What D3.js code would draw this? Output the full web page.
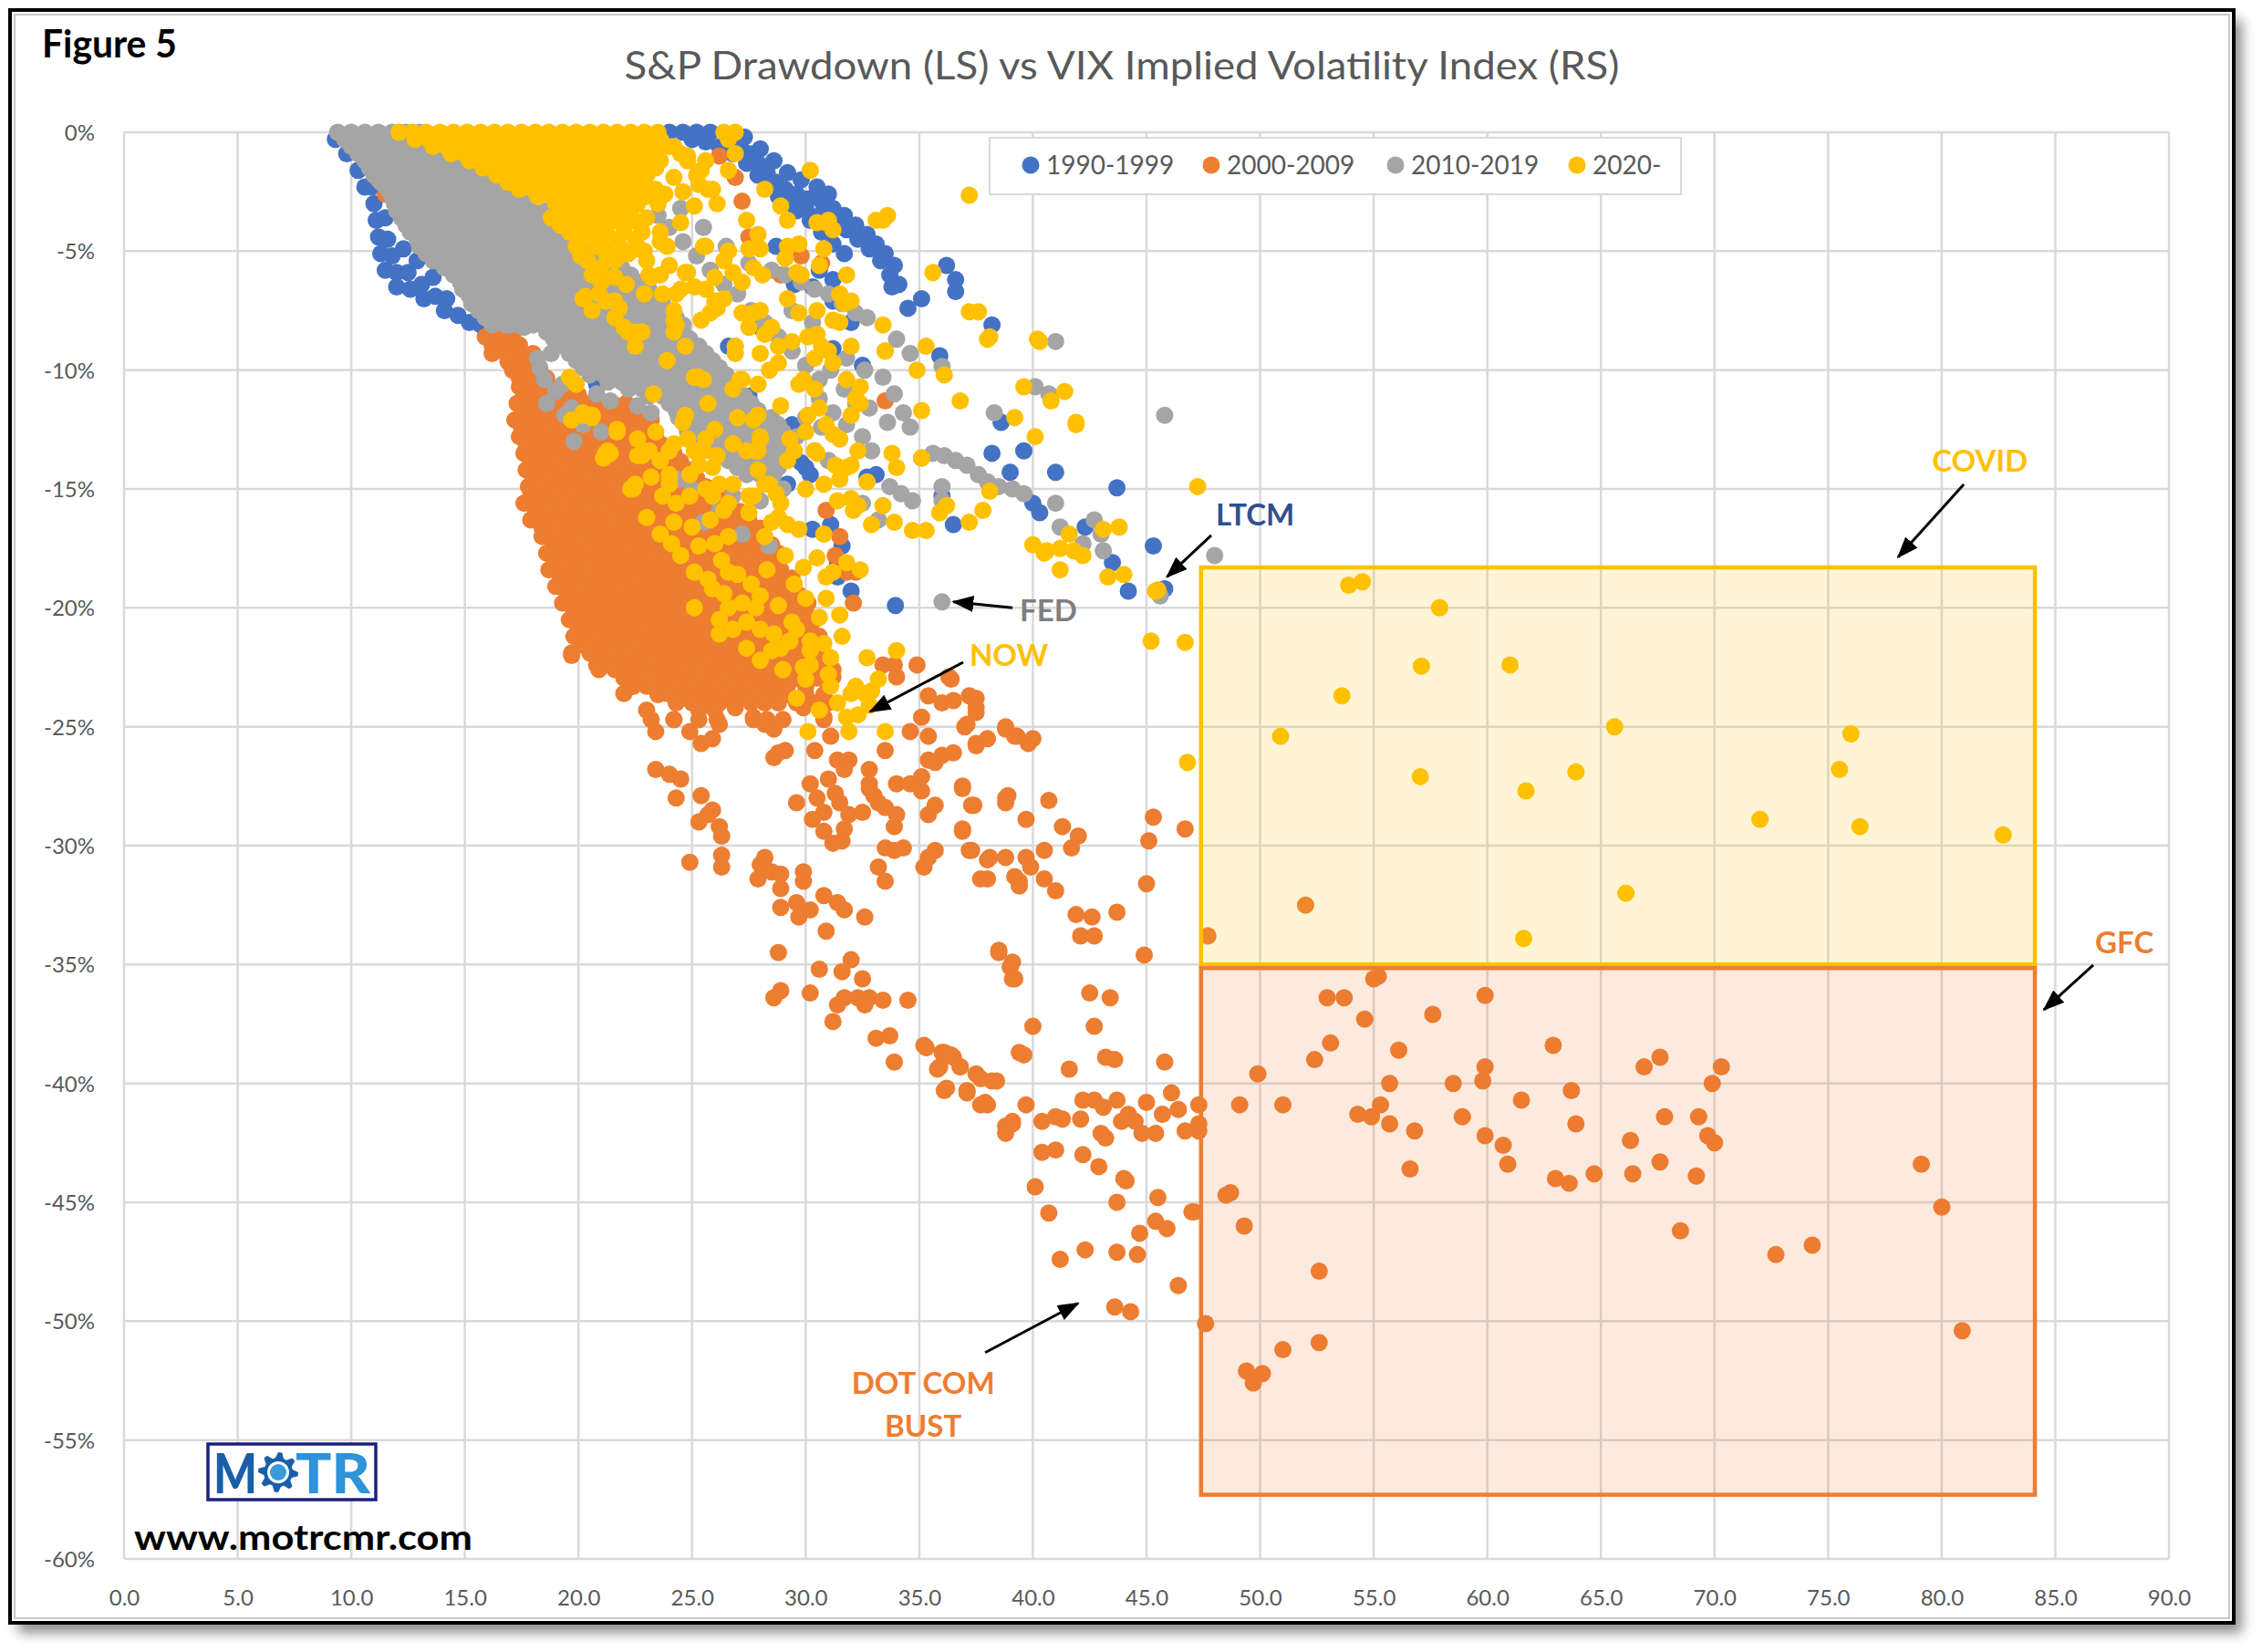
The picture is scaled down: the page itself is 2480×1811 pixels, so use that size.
<!DOCTYPE html>
<html>
<head>
<meta charset="utf-8">
<script src="https://cdn.jsdelivr.net/npm/d3@7"></script>
<style>
  body{margin:0;background:#fff;}
  svg{display:block;}
</style>
</head>
<body>
<svg id="chart" width="2480" height="1811"></svg>
<script>
const FONT = "Lato, 'Open Sans', 'DejaVu Sans', sans-serif";

// ---- axis ticks
const xTickValues = [0,5,10,15,20,25,30,35,40,45,50,55,60,65,70,75,80,85,90];
const yTickValues = [0,-5,-10,-15,-20,-25,-30,-35,-40,-45,-50,-55,-60];

const seriesNames = ["1990-1999","2000-2009","2010-2019","2020-"];
const seriesColors = ["#4472C4","#ED7D31","#A5A5A5","#FFC000"];

// ---- points: [VIX, drawdown %]
const blue1990s = [
  [9.3,-0.3],[9.8,-0.9],[10.3,-1.6],[10.6,-2.3],[10.9,-2.3],[11.0,-3.0],[11.1,-3.7],[11.5,-3.6],[11.2,-4.4],[11.6,-4.5],
  [11.3,-5.1],[11.8,-5.2],[11.5,-5.8],[12.0,-5.9],[12.5,-5.9],[12.0,-6.5],[12.6,-6.6],[13.1,-6.4],[13.6,-6.1],[13.2,-7.0],
  [13.7,-6.9],[14.2,-7.0],[14.1,-7.5],[14.7,-7.7],[15.2,-8.0],[15.7,-8.1],[16.3,-8.0],[16.9,-8.0],[12.3,-4.9],[12.9,-5.4],
  [24.0,0],[24.6,0],[25.2,0],[25.8,0],[27.1,-0.5],[27.5,-0.9],[27.9,-1.3],[28.3,-1.7],[28.7,-2.1],[29.1,-2.4],
  [29.6,-2.6],[30.1,-2.8],[30.7,-2.9],[31.2,-3.2],[31.7,-3.5],[32.2,-3.9],[32.7,-4.3],[33.1,-4.7],[33.5,-5.1],[33.9,-5.6],
  [25.0,-0.3],[25.6,-0.4],[26.2,-0.6],[26.8,-0.9],[27.4,-1.3],[27.9,-1.8],[28.3,-2.3],[28.8,-2.7],[29.4,-3.0],[30.0,-3.2],
  [30.6,-3.5],[31.2,-3.8],[31.8,-4.1],[32.3,-4.5],[32.8,-4.9],[33.3,-5.4],[33.7,-6.0],[34.1,-6.4],[26.5,-0.1],[27.3,-0.2],
  [28.0,-0.7],[28.6,-1.2],[29.2,-1.7],[29.8,-2.0],[30.5,-2.3],[31.0,-2.6],
  [29.0,-3.0],[29.6,-3.3],[30.2,-3.7],[30.7,-4.2],[31.2,-4.7],[31.7,-5.1],[31.2,-6.2],[30.6,-5.8],[33.8,-6.5],[34.5,-7.4],
  [35.1,-7.0],[36.2,-5.6],[36.6,-6.2],[36.6,-6.7],[38.2,-8.1],[29.5,-6.4],[28.7,-4.8],[26.6,-9.0],[28.0,-8.2],[30.3,-6.5],
  [31.2,-7.1],[32.0,-8.0],[35.9,-9.4],[31.2,-9.1],[38.6,-12.2],[39.6,-13.4],[38.2,-13.5],[39.0,-14.3],[41.0,-14.3],[43.7,-14.95],
  [40.0,-15.6],[40.3,-16.0],[42.3,-16.6],[43.5,-18.1],[44.2,-19.3],[45.8,-19.2],[45.3,-17.4],[33.95,-19.9],[36.5,-16.5],[36.0,-15.3],
  [32.7,-14.5],[33.1,-14.4],[29.4,-12.3],[30.0,-14.1],[30.3,-16.7],[31.4,-18.7],[28.6,-18.4],[27.4,-16.3],[31.1,-16.5],[31.6,-17.4],
  [32.0,-19.3],[31.4,-18.1],[28.9,-12.7],[29.2,-14.8],[21.1,-14.1],[24.0,-13.5],[20.8,-10.6],
  [21.0,-10.5],[27.5,-11.1],[29.0,-12.8],[29.8,-13.9],[30.2,-14.4],[32.5,-9.8]
];

// dense core of the 2000s cloud, row by row: [drawdown, VIX values]
const orangeRows = [
  [-8.6,[15.9,16.5,17.1]],
  [-8.95,[16.2,16.8,17.4]],
  [-9.3,[16.2,16.8,17.4,18.0]],
  [-9.65,[16.9,17.5,18.1]],
  [-10.0,[17.1,17.7,18.3]],
  [-10.35,[17.4,18.0,18.6]],
  [-10.7,[17.4,18.0,18.6,19.2]],
  [-11.05,[17.6,18.2,18.8,19.4,20.0]],
  [-11.4,[17.3,17.9,18.5,19.1,19.7,20.3,20.9,21.5,22.1]],
  [-11.75,[17.6,18.2,18.8,19.4,20.0,20.6,21.2,21.8,22.4]],
  [-12.1,[17.2,17.8,18.4,19.0,19.6,20.2,20.8,21.4,22.0,22.6,23.2]],
  [-12.45,[17.5,18.1,18.7,19.3,19.9,20.5,21.1,21.7,22.3,22.9]],
  [-12.8,[17.4,18.0,18.6,19.2,19.8,20.4,21.0,21.6,22.2,22.8,23.4]],
  [-13.15,[17.7,18.3,18.9,19.5,20.1,20.7,21.3,21.9,22.5,23.1,23.7]],
  [-13.5,[17.6,18.2,18.8,19.4,20.0,20.6,21.2,21.8,22.4,23.0,23.6,24.2]],
  [-13.85,[17.9,18.5,19.1,19.7,20.3,20.9,21.5,22.1,22.7,23.3,23.9,24.5]],
  [-14.2,[17.7,18.3,18.9,19.5,20.1,20.7,21.3,21.9,22.5,23.1,23.7,24.3,24.9]],
  [-14.55,[18.0,18.6,19.2,19.8,20.4,21.0,21.6,22.2,22.8,23.4,24.0,24.6,25.2]],
  [-14.9,[17.8,18.4,19.0,19.6,20.2,20.8,21.4,22.0,22.6,23.2,23.8,24.4,25.0,25.6]],
  [-15.25,[17.9,18.5,19.1,19.7,20.3,20.9,21.5,22.1,22.7,23.3,23.9,24.5,25.1,25.7,26.3]],
  [-15.6,[17.6,18.2,18.8,19.4,20.0,20.6,21.2,21.8,22.4,23.0,23.6,24.2,24.8,25.4,26.0,26.6]],
  [-15.95,[18.1,18.7,19.3,19.9,20.5,21.1,21.7,22.3,22.9,23.5,24.1,24.7,25.3,25.9,26.5,27.1]],
  [-16.3,[17.9,18.5,19.1,19.7,20.3,20.9,21.5,22.1,22.7,23.3,23.9,24.5,25.1,25.7,26.3,26.9,27.5]],
  [-16.65,[18.4,19.0,19.6,20.2,20.8,21.4,22.0,22.6,23.2,23.8,24.4,25.0,25.6,26.2,26.8,27.4,28.0]],
  [-17.0,[18.4,19.0,19.6,20.2,20.8,21.4,22.0,22.6,23.2,23.8,24.4,25.0,25.6,26.2,26.8,27.4,28.0]],
  [-17.35,[18.9,19.5,20.1,20.7,21.3,21.9,22.5,23.1,23.7,24.3,24.9,25.5,26.1,26.7,27.3,27.9,28.5]],
  [-17.7,[18.6,19.2,19.8,20.4,21.0,21.6,22.2,22.8,23.4,24.0,24.6,25.2,25.8,26.4,27.0,27.6,28.2,28.8]],
  [-18.05,[19.0,19.6,20.2,20.8,21.4,22.0,22.6,23.2,23.8,24.4,25.0,25.6,26.2,26.8,27.4,28.0,28.6]],
  [-18.4,[18.7,19.3,19.9,20.5,21.1,21.7,22.3,22.9,23.5,24.1,24.7,25.3,25.9,26.5,27.1,27.7,28.3,28.9]],
  [-18.75,[19.2,19.8,20.4,21.0,21.6,22.2,22.8,23.4,24.0,24.6,25.2,25.8,26.4,27.0,27.6,28.2,28.8,29.4]],
  [-19.1,[19.0,19.6,20.2,20.8,21.4,22.0,22.6,23.2,23.8,24.4,25.0,25.6,26.2,26.8,27.4,28.0,28.6,29.2]],
  [-19.45,[19.5,20.1,20.7,21.3,21.9,22.5,23.1,23.7,24.3,24.9,25.5,26.1,26.7,27.3,27.9,28.5,29.1,29.7]],
  [-19.8,[19.3,19.9,20.5,21.1,21.7,22.3,22.9,23.5,24.1,24.7,25.3,25.9,26.5,27.1,27.7,28.3,28.9,29.5,30.1]],
  [-20.15,[19.8,20.4,21.0,21.6,22.2,22.8,23.4,24.0,24.6,25.2,25.8,26.4,27.0,27.6,28.2,28.8,29.4,30.0]],
  [-20.5,[19.6,20.2,20.8,21.4,22.0,22.6,23.2,23.8,24.4,25.0,25.6,26.2,26.8,27.4,28.0,28.6,29.2,29.8,30.4]],
  [-20.85,[20.0,20.6,21.2,21.8,22.4,23.0,23.6,24.2,24.8,25.4,26.0,26.6,27.2,27.8,28.4,29.0,29.6,30.2]],
  [-21.2,[19.8,20.4,21.0,21.6,22.2,22.8,23.4,24.0,24.6,25.2,25.8,26.4,27.0,27.6,28.2,28.8,29.4,30.0,30.6]],
  [-21.55,[20.1,20.7,21.3,21.9,22.5,23.1,23.7,24.3,24.9,25.5,26.1,26.7,27.3,27.9,28.5,29.1,29.7,30.3]],
  [-21.9,[19.7,20.5,21.2,21.8,22.4,23.0,23.6,24.2,24.8,25.4,26.0,26.6,27.2,27.8,28.4,29.0,29.6,30.2,30.8]],
  [-22.25,[20.9,21.5,22.1,22.7,23.3,23.9,24.5,25.1,25.7,26.3,26.9,27.5,28.1,28.7,29.3,29.9,30.6]],
  [-22.6,[20.9,21.6,22.3,23.0,23.6,24.2,24.8,25.4,26.0,26.6,27.2,27.8,28.4,29.0,29.6,30.4,31.2]],
  [-22.95,[22.0,22.7,23.4,24.1,24.7,25.3,25.9,26.5,27.1,27.7,28.3,28.9,29.6,30.5]],
  [-23.3,[22.4,23.0,23.8,24.4,25.0,25.6,26.2,26.8,27.4,28.0,28.6,29.2,30.0,31.0]],
  [-23.65,[23.5,24.6,25.3,25.9,26.5,27.2,27.9,28.5,29.2,30.0,30.8]],
  [-24.0,[24.3,25.0,25.6,26.2,26.9,27.6,28.2,28.8,29.6,30.4,31.0]],
  [-24.7,[23.2,24.2,25.3,26.1,27.7,28.3,29.0,30.8]]
];

const orange2000s = [
  [11.2,-2.0],[11.5,-2.6],[26.2,-1.0],[26.9,-1.9],[27.2,-2.9],[27.5,-4.4],[29.8,-5.2],[28.9,-6.0],[30.7,-5.5],[33.5,-11.3],[16.0,-8.6],
  [30.9,-15.9],[31.5,-17.0],[31.8,-18.5],[31.3,-17.8],[32.2,-18.5],[32.1,-19.8],
  [19.7,-22.0],[20.5,-21.7],[20.8,-22.4],[21.6,-21.8],[22.2,-22.0],[22.0,-23.6],[22.4,-23.3],[22.8,-22.9],[23.2,-22.3],[23.0,-24.3],
  [23.4,-25.2],[23.9,-23.6],[24.3,-23.9],[24.2,-24.7],[24.9,-25.2],[25.4,-25.7],[25.9,-25.5],[26.2,-24.9],[25.3,-24.3],[26.0,-24.3],
  [26.9,-24.2],[27.7,-24.6],[28.2,-24.9],[28.6,-25.1],[28.6,-26.3],[29.1,-26.0],[29.9,-24.2],[30.8,-24.6],[30.4,-26.0],[31.1,-25.4],
  [31.4,-26.4],[31.7,-26.8],[31.9,-26.4],[31.2,-22.9],[32.8,-26.8],[33.4,-22.4],[33.9,-22.4],[34.0,-22.9],[33.5,-26.0],[34.6,-25.2],
  [34.9,-22.4],[35.1,-24.6],[35.4,-25.4],[35.4,-26.4],[35.1,-27.1],[34.0,-27.4],[34.6,-27.4],[35.1,-27.7],[36.3,-22.9],[35.4,-23.7],
  [36.0,-24.0],[36.5,-23.9],[37.2,-23.7],[37.5,-24.2],[37.1,-24.9],[36.0,-26.2],[36.5,-26.1],[35.7,-26.5],[37.5,-25.7],[38.0,-25.5],
  [38.8,-25.1],[39.2,-25.4],[36.9,-27.6],[37.4,-28.3],[38.8,-28.2],[38.9,-27.9],[35.7,-28.3],[35.4,-28.7],[36.9,-29.3],[37.2,-30.2],
  [38.0,-30.6],[38.8,-30.5],[37.7,-31.4],[39.4,-31.5],[35.4,-30.5],[35.7,-30.2],[35.2,-30.9],[33.2,-30.9],[33.5,-31.5],[33.5,-30.1],
  [33.9,-30.2],[34.3,-30.1],[32.8,-27.4],[33.0,-27.9],[33.2,-28.2],[33.5,-28.4],[34.0,-28.7],[33.9,-29.2],[32.5,-28.6],[31.9,-28.7],
  [31.7,-29.3],[31.6,-29.8],[30.2,-27.4],[30.5,-28.0],[30.8,-28.6],[31.0,-27.2],[31.3,-27.8],[30.3,-28.9],[30.8,-29.4],[31.2,-29.9],
  [31.5,-28.2],[29.6,-28.2],[32.8,-27.6],[28.8,-26.1],[23.4,-26.8],[24.0,-27.0],[24.5,-27.2],[24.3,-28.0],[25.4,-27.9],[25.9,-28.5],
  [26.2,-29.2],[26.3,-29.6],[25.3,-29.0],[25.7,-28.7],[24.9,-30.7],[26.3,-30.4],[26.3,-30.9],[28.2,-30.5],[28.0,-30.8],[27.9,-31.4],
  [28.5,-31.1],[28.9,-31.2],[28.9,-31.8],[29.9,-31.1],[29.9,-31.5],[28.9,-32.6],[29.6,-32.4],[30.2,-32.7],[29.7,-33.0],[30.8,-32.1],
  [31.4,-32.4],[31.7,-32.7],[30.9,-33.6],[32.6,-33.0],[28.8,-34.5],[28.9,-36.1],[28.6,-36.4],[30.2,-36.2],[30.6,-35.2],[31.6,-35.3],
  [32.0,-34.8],[32.5,-35.6],[31.4,-36.7],[31.7,-36.4],[32.3,-36.4],[32.8,-36.4],[33.4,-36.5],[31.2,-37.4],[32.6,-36.7],[34.5,-36.5],
  [33.1,-38.1],[33.7,-38.0],[33.9,-39.1],[35.2,-38.4],[36.0,-38.7],[36.5,-38.9],[36.8,-39.3],[35.9,-39.3],[36.2,-40.2],[37.1,-40.3],
  [37.5,-39.6],[38.2,-39.9],[37.7,-40.9],[38.0,-40.9],[38.8,-41.8],[39.1,-41.7],[38.5,-34.5],[39.0,-35.1],[39.2,-35.6],[39.4,-38.7],
  [36.4,-23.0],[37.5,-23.8],[37.5,-24.4],[37.0,-25.0],[37.5,-25.8],[38.8,-25.0],[39.3,-25.4],[39.8,-25.7],[40.0,-25.5],[36.9,-27.5],
  [37.3,-28.3],[38.8,-28.0],[39.7,-28.9],[40.7,-28.1],[41.3,-29.2],[42.0,-29.6],[41.7,-30.1],[36.9,-29.4],[37.3,-30.2],[38.1,-30.5],
  [39.7,-30.5],[39.9,-30.9],[40.5,-30.2],[38.0,-31.4],[39.2,-31.3],[39.4,-31.7],[40.5,-31.4],[41.0,-31.9],[45.3,-28.8],[45.1,-29.8],
  [46.7,-29.3],[45.0,-31.6],[41.9,-32.9],[42.6,-33.0],[42.1,-33.8],[42.7,-33.8],[43.7,-32.8],[44.9,-34.6],[38.5,-34.4],[39.1,-34.9],
  [39.1,-35.6],[42.5,-36.2],[43.4,-36.4],[42.7,-37.6],[40.0,-37.6],[39.6,-38.8],[35.3,-38.5],[36.1,-38.7],[36.4,-38.8],[36.8,-39.3],
  [35.8,-39.4],[36.1,-40.3],[37.1,-40.4],[37.7,-39.8],[38.4,-39.9],[37.9,-40.8],[39.7,-40.9],[39.1,-41.6],[38.8,-42.1],[40.4,-41.6],
  [41.0,-41.4],[41.3,-41.5],[42.1,-41.5],[40.4,-42.9],[41.0,-42.8],[41.6,-39.4],[43.2,-38.9],[43.6,-39.0],[45.8,-39.1],[42.2,-40.7],
  [42.7,-40.7],[43.1,-41.0],[43.7,-40.7],[44.2,-41.3],[44.5,-41.6],[43.9,-41.6],[44.8,-42.1],[45.4,-42.1],[45.0,-40.8],[43.0,-42.1],
  [43.2,-42.3],[42.2,-43.0],[42.9,-43.5],[44.0,-44.0],[46.1,-40.4],[46.4,-41.1],[45.7,-41.3],[46.7,-42.0],[47.3,-40.9],[47.3,-41.7],
  [47.3,-42.0],[47.7,-33.8],[52.0,-32.5],
  [40.1,-44.35],[40.7,-45.45],[41.2,-47.4],[42.3,-47.0],[43.7,-47.1],[44.6,-47.2],[44.7,-46.3],[43.7,-45.0],[44.1,-44.1],[45.5,-44.8],
  [45.4,-45.8],[45.9,-46.1],[47.0,-45.4],[46.4,-48.5],[43.6,-49.4],[44.3,-49.6],[47.6,-50.1],[48.5,-44.7],[48.7,-44.6],[49.3,-46.0],
  [52.6,-47.9],[52.6,-50.9],[51.0,-51.2],[49.4,-52.1],[50.1,-52.2],[49.7,-52.6],
  [55.0,-35.6],[55.2,-35.5],[52.95,-36.4],[53.7,-36.4],[59.9,-36.3],[54.6,-37.3],[57.6,-37.1],[53.1,-38.3],[52.4,-39.0],[56.1,-38.6],
  [62.9,-38.4],[66.9,-39.3],[67.6,-38.9],[70.3,-39.3],[69.9,-40.0],[49.9,-39.6],[55.7,-40.0],[58.5,-40.0],[59.9,-39.3],[59.8,-39.9],
  [63.7,-40.3],[61.5,-40.7],[49.1,-40.9],[51.0,-40.9],[54.3,-41.3],[54.9,-41.4],[55.3,-40.9],[55.7,-41.7],[56.8,-42.0],[58.9,-41.4],
  [59.9,-42.2],[60.7,-42.6],[60.9,-43.4],[63.9,-41.7],[66.3,-42.4],[67.8,-41.4],[69.3,-41.4],[69.7,-42.2],[70.0,-42.5],[56.6,-43.6],
  [63.0,-44.0],[63.6,-44.2],[64.7,-43.8],[66.4,-43.8],[67.6,-43.3],[69.2,-43.9],[47.1,-45.4],[68.5,-46.2],[72.7,-47.2],[74.3,-46.8],
  [79.1,-43.4],[80.0,-45.2],[80.9,-50.4]
];

// dense core of the 2010s cloud
const grayRows = [
  [0.0,[9.4,10.0,10.6,11.2,11.8,12.4,13.0]],
  [-0.3,[9.7,10.3,10.9,11.5,12.1,12.7,13.3,13.9]],
  [-0.6,[10.0,10.6,11.2,11.8,12.4,13.0,13.6,14.2]],
  [-0.9,[10.3,10.9,11.5,12.1,12.7,13.3,13.9,14.5,15.1]],
  [-1.2,[10.6,11.2,11.8,12.4,13.0,13.6,14.2,14.8,15.4]],
  [-1.5,[10.8,11.4,12.0,12.6,13.2,13.8,14.4,15.0,15.6,16.2]],
  [-1.8,[11.0,11.6,12.2,12.8,13.4,14.0,14.6,15.2,15.8,16.4]],
  [-2.1,[11.3,11.9,12.5,13.1,13.7,14.3,14.9,15.5,16.1,16.7]],
  [-2.4,[11.6,12.2,12.8,13.4,14.0,14.6,15.2,15.8,16.4,17.0]],
  [-2.7,[11.8,12.4,13.0,13.6,14.2,14.8,15.4,16.0,16.6,17.2,17.8]],
  [-3.0,[11.9,12.5,13.1,13.7,14.3,14.9,15.5,16.1,16.7,17.3,17.9]],
  [-3.3,[12.0,12.6,13.2,13.8,14.4,15.0,15.6,16.2,16.8,17.4,18.0,18.6]],
  [-3.6,[12.2,12.8,13.4,14.0,14.6,15.2,15.8,16.4,17.0,17.6,18.2,18.8]],
  [-3.9,[12.4,13.0,13.6,14.2,14.8,15.4,16.0,16.6,17.2,17.8,18.4,19.0]],
  [-4.2,[12.6,13.2,13.8,14.4,15.0,15.6,16.2,16.8,17.4,18.0,18.6,19.2]],
  [-4.5,[12.9,13.5,14.1,14.7,15.3,15.9,16.5,17.1,17.7,18.3,18.9,19.5,20.1]],
  [-4.8,[13.0,13.6,14.2,14.8,15.4,16.0,16.6,17.2,17.8,18.4,19.0,19.6,20.2]],
  [-5.1,[13.3,13.9,14.5,15.1,15.7,16.3,16.9,17.5,18.1,18.7,19.3,19.9,20.5,21.1]],
  [-5.4,[13.6,14.2,14.8,15.4,16.0,16.6,17.2,17.8,18.4,19.0,19.6,20.2,20.8,21.4]],
  [-5.7,[14.1,14.7,15.3,15.9,16.5,17.1,17.7,18.3,18.9,19.5,20.1,20.7,21.3,21.9]],
  [-6.0,[14.5,15.1,15.7,16.3,16.9,17.5,18.1,18.7,19.3,19.9,20.5,21.1,21.7,22.3]],
  [-6.3,[14.8,15.4,16.0,16.6,17.2,17.8,18.4,19.0,19.6,20.2,20.8,21.4,22.0,22.6]],
  [-6.6,[14.9,15.5,16.1,16.7,17.3,17.9,18.5,19.1,19.7,20.3,20.9,21.5,22.1,22.7,23.1]],
  [-6.9,[15.2,15.8,16.4,17.0,17.6,18.2,18.8,19.4,20.0,20.6,21.2,21.8,22.4,23.0,23.5]],
  [-7.2,[15.3,15.9,16.5,17.1,17.7,18.3,18.9,19.5,20.1,20.7,21.3,21.9,22.5,23.1,23.7]],
  [-7.5,[15.6,16.2,16.8,17.4,18.0,18.6,19.2,19.8,20.4,21.0,21.6,22.2,22.8,23.4,24.0]],
  [-7.8,[15.9,16.5,17.1,17.7,18.3,18.9,19.5,20.1,20.7,21.3,21.9,22.5,23.1,23.7,24.3]],
  [-8.1,[16.2,16.8,17.4,18.0,18.6,19.2,19.8,20.4,21.0,21.6,22.2,22.8,23.4,24.0,24.6]],
  [-8.4,[18.6,19.2,19.8,20.4,21.0,21.6,22.2,22.8,23.4,24.0,24.6]],
  [-8.7,[18.9,19.5,20.1,20.7,21.3,21.9,22.5,23.1,23.7,24.3,24.9]],
  [-9.0,[19.3,19.9,20.5,21.1,21.7,22.3,22.9,23.5,24.1,24.7,25.3]],
  [-9.3,[19.6,20.2,20.8,21.4,22.0,22.6,23.2,23.8,24.4,25.0,25.6]],
  [-9.6,[19.9,20.5,21.1,21.7,22.3,22.9,23.5,24.1,24.7,25.3,25.9]],
  [-9.9,[20.2,20.8,21.4,22.0,22.6,23.2,23.8,24.4,25.0,25.6,26.2]],
  [-10.2,[20.5,21.1,21.7,22.3,22.9,23.5,24.1,24.7,25.3,25.9,26.5]],
  [-10.5,[21.3,21.9,22.5,23.1,23.7,24.3,24.9,25.5,26.1,26.7]],
  [-10.8,[22.2,22.8,23.4,24.0,24.6,25.2,25.8,26.4,27.0]],
  [-11.1,[23.1,23.7,24.3,24.9,25.5,26.1,26.7,27.3]],
  [-11.4,[24.0,24.6,25.2,25.8,26.4,27.0,27.6]],
  [-11.7,[24.3,24.9,25.5,26.1,26.7,27.3,27.9]],
  [-12.0,[24.4,25.0,25.6,26.2,26.8,27.4,28.0,28.5]],
  [-12.3,[24.7,25.3,25.9,26.5,27.1,27.7,28.3,28.8]],
  [-12.6,[24.8,25.4,26.0,26.6,27.2,27.8,28.4,29.0]],
  [-12.9,[25.2,25.8,26.4,27.0,27.6,28.2,28.8]],
  [-13.2,[25.5,26.1,26.7,27.3,27.9,28.5,29.1]],
  [-13.5,[26.0,26.6,27.2,27.8,28.4,29.0]],
  [-13.8,[26.6,27.2,27.8,28.4,29.0]],
  [-14.1,[27.0,27.6,28.2,28.8]],
  [-14.4,[27.4,28.0,28.6]]
];

const gray2010s = [
  [17.0,-8.1],[17.6,-8.2],[18.2,-9.5],[18.8,-9.3],[19.3,-10.6],[19.7,-11.6],[18.5,-10.4],[20.8,-11.0],[21.4,-11.3],[22.6,-11.5],[23.2,-11.8],
  [18.3,-9.9],[19.0,-10.9],[19.4,-11.9],[18.6,-11.4],[20.2,-12.3],[21.0,-12.6],[19.8,-13.0],
  [25.0,-15.0],[26.2,-15.9],[27.2,-16.9],[28.4,-17.4],[24.4,-14.6],[26.8,-15.3],
  [29.4,-7.5],[30.3,-8.0],[31.8,-9.5],[32.6,-10.0],[30.7,-12.4],[32.8,-11.6],
  [24.0,-4.0],[24.6,-4.6],[25.2,-5.2],[25.8,-5.8],[26.4,-6.4],[24.5,-3.2],[25.5,-4.0],[26.5,-4.8],[27.5,-5.5],[23.5,-3.5],
  [22.5,-3.0],[21.5,-2.5],[20.5,-2.0],[19.5,-1.5],[18.5,-1.0],
  [28.5,-5.8],[29.1,-6.0],[29.8,-6.3],[30.4,-6.6],[31.0,-6.8],[31.6,-7.2],[32.2,-7.6],[32.7,-7.8],[27.0,-6.8],[27.6,-7.5],
  [28.2,-8.0],[28.8,-8.6],[29.4,-9.2],[30.0,-9.8],[30.6,-10.4],[31.1,-10.0],[31.7,-10.8],[32.2,-11.4],[31.2,-11.8],[31.8,-12.3],
  [30.6,-11.2],[30.0,-12.0],[29.6,-12.8],[30.4,-13.4],[31.0,-13.8],[32.5,-12.8],[33.4,-10.3],[33.9,-11.0],[34.3,-11.8],[34.6,-12.4],
  [33.6,-12.2],[32.9,-13.4],[33.7,-14.9],[34.2,-15.2],[34.7,-15.5],[35.1,-13.7],[35.6,-13.5],[36.1,-13.6],[36.6,-13.8],[37.1,-14.0],
  [37.6,-14.4],[36.0,-14.9],[36.0,-15.5],[38.0,-14.7],[38.5,-14.9],[39.1,-15.0],[39.6,-15.2],[41.0,-15.6],[41.2,-16.6],[42.7,-16.3],
  [43.0,-16.9],[43.1,-17.6],[42.2,-17.3],[45.8,-11.9],[45.6,-19.5],[48.0,-17.8],[36.0,-19.75],[41.0,-8.8],[40.1,-10.7],[40.7,-11.0],
  [38.3,-11.8],[36.0,-9.85],[34.6,-9.3],[34.0,-8.7],[33.5,-9.2],[25.5,-16.4],[28.0,-15.5],[29.0,-15.0],[33.2,-16.3],[32.5,-15.6]
];

// dense core of the 2020s cloud
const yellowRows = [
  [0.0,[12.1,12.7,13.3,13.9,14.5,15.1,15.7,16.3,16.9,17.5,18.1,18.7,19.3,19.9,20.5,21.1,21.7,22.3,22.9,23.5,26.4,26.9]],
  [-0.3,[12.8,13.4,14.0,14.6,15.2,15.8,16.4,17.0,17.6,18.2,18.8,19.4,20.0,20.6,21.2,21.8,22.4,23.0,23.6,26.6]],
  [-0.6,[13.6,14.2,14.8,15.4,16.0,16.6,17.2,17.8,18.4,19.0,19.6,20.2,20.8,21.4,22.0,22.6,23.2,24.2]],
  [-0.9,[14.4,15.0,15.6,16.2,16.8,17.4,18.0,18.6,19.2,19.8,20.4,21.0,21.6,22.2,22.8,23.4,24.5]],
  [-1.2,[15.2,15.8,16.4,17.0,17.6,18.2,18.8,19.4,20.0,20.6,21.2,21.8,22.4,23.0,23.6,24.8,25.6]],
  [-1.5,[15.8,16.4,17.0,17.6,18.2,18.8,19.4,20.0,20.6,21.2,21.8,22.4,23.0,23.4]],
  [-1.8,[16.4,17.0,17.6,18.2,18.8,19.4,20.0,20.6,21.2,21.8,22.4,23.0,25.2]],
  [-2.1,[16.9,17.5,18.1,18.7,19.3,19.9,20.5,21.1,21.7,22.3,22.9]],
  [-2.4,[17.4,18.0,18.6,19.2,19.8,20.4,21.0,21.6,22.2,22.8,23.4,25.7]],
  [-2.7,[18.2,18.8,19.4,20.0,20.6,21.2,21.8,22.4,23.0]],
  [-3.0,[19.0,19.6,20.2,20.8,21.4,22.0,22.6,26.1]],
  [-3.3,[19.3,19.9,20.5,21.1,21.7,22.3]],
  [-3.6,[18.8,19.5,20.2,20.9,21.6,22.3,23.0]],
  [-3.9,[19.2,19.9,20.6,21.3,22.0,22.7]],
  [-4.2,[19.6,20.4,21.2,22.0,22.8,23.6]],
  [-4.5,[20.1,20.9,21.7,22.5]],
  [-4.8,[19.9,20.8,21.8,22.6]],
  [-5.1,[20.1,21.2,22.2]],
  [-5.4,[20.4,21.6,23.0]]
];

const yellow2020s = [
  [24.0,-0.6],[24.8,-1.0],[25.4,-1.6],[24.2,-1.9],[23.8,-2.6],[24.6,-2.5],[25.3,-2.2],[23.5,-3.0],
  [30.2,-1.6],[30.9,-3.8],[29.2,-3.7],[27.4,-3.7],[27.9,-4.3],[26.6,-5.0],[26.8,-5.9],[26.0,-7.1],[25.4,-7.9],[27.2,-7.6],
  [28.2,-8.5],[28.8,-9.7],[27.9,-10.6],[29.7,-10.6],[30.6,-11.6],[30.0,-12.6],[31.5,-12.9],[32.2,-11.2],[25.1,-10.3],[24.2,-7.9],
  [22.5,-8.4],[22.8,-8.4],[21.7,-12.6],[21.2,-13.5],[23.6,-13.8],[25.1,-13.4],[25.9,-14.1],[27.4,-13.4],[28.2,-14.8],[28.9,-15.6],
  [23.0,-16.2],[23.6,-16.9],[24.5,-17.8],[25.1,-18.5],[25.9,-19.2],[26.6,-20.0],[27.4,-20.6],[25.1,-20.0],[29.7,-16.7],[30.5,-17.9],
  [31.2,-18.5],[31.8,-18.1],[29.1,-17.8],[29.4,-20.6],[30.2,-21.4],[28.2,-17.0],[26.6,-17.0],[24.3,-15.6],[22.3,-15.0],[21.1,-13.7],
  [19.9,-10.6],[19.6,-10.3],[20.2,-11.9],[20.6,-12.0],[22.0,-8.2],[21.6,-7.8],[20.9,-6.8],[20.3,-6.9],[21.2,-7.1],[22.9,-6.8],
  [23.6,-6.0],[24.3,-6.8],[25.1,-6.5],[23.6,-4.6],[24.5,-3.8],[25.1,-3.1],[25.9,-2.4],[26.6,-1.6],[26.9,-0.9],[28.2,-2.4],
  [28.9,-3.1],[29.7,-4.7],[30.5,-3.8],[31.2,-4.1],[30.6,-5.6],[31.5,-6.8],[29.7,-7.6],[30.5,-8.5],[31.2,-9.7],[29.4,-8.8],
  [28.9,-11.5],[30.5,-13.5],[31.8,-14.1],[27.7,-15.3],[26.6,-15.6],
  [26.0,-12.5],[26.8,-14.8],[27.5,-16.0],[28.5,-16.4],[29.5,-19.0],[28.0,-19.5],[27.0,-18.6],[26.3,-18.0],[30.0,-15.0],[29.2,-13.8],
  [27.0,-12.0],[28.0,-12.8],[24.6,-12.2],[23.3,-11.0],[23.9,-9.6],[25.7,-11.4],[26.9,-9.3],[30.8,-16.9],[31.5,-20.3],[29.0,-22.6],
  [28.0,-22.2],[27.6,-19.0],
  // the 2022 path down through the cloud
  [22.6,-12.9],[23.4,-12.6],[22.8,-13.6],[24.2,-13.1],[23.2,-14.5],[24.0,-14.6],[24.9,-14.4],[23.7,-15.3],[24.9,-15.3],[25.6,-15.0],
  [24.2,-16.4],[25.0,-16.6],[25.8,-16.3],[24.1,-17.3],[25.3,-17.4],[26.0,-17.3],[26.6,-18.5],[25.7,-18.8],[26.4,-19.4],[27.2,-19.8],
  [26.2,-20.5],[27.8,-20.0],[28.3,-18.4],[28.8,-19.9],[29.3,-21.4],[28.5,-21.8],[29.9,-22.5],[29.6,-23.8],[31.0,-22.8],[30.6,-24.3],
  [31.8,-24.6],[32.8,-24.1],[33.2,-23.0],[31.6,-21.2],[30.6,-20.4],[30.0,-19.6],[30.9,-19.6],[29.9,-18.3],[29.2,-16.5],[28.7,-15.2],
  [27.9,-14.2],[26.8,-13.1],[25.6,-12.9],
  [20.2,-4.8],[21.2,-4.9],[22.5,-4.9],[23.9,-4.8],[25.5,-4.8],[27.5,-4.9],[29.2,-4.8],[30.8,-4.9],[20.6,-6.0],[21.6,-6.1],
  [23.1,-6.0],[24.7,-5.9],[26.0,-6.1],[28.1,-6.0],[29.8,-6.0],[31.8,-6.0],[20.6,-7.5],[21.8,-7.4],[24.2,-7.5],[26.1,-7.4],
  [28.0,-7.5],[30.5,-7.5],[22.5,-9.0],[24.7,-9.0],[26.9,-9.0],[28.8,-9.0],[30.7,-9.0],[19.7,-10.4],[25.5,-10.4],[27.1,-10.4],
  [29.9,-10.4],[31.8,-10.4],[20.6,-11.9],[24.7,-11.9],[27.9,-11.9],[30.1,-11.9],[32.0,-11.9],[21.3,-13.4],[23.1,-13.4],[25.5,-13.4],
  [27.8,-13.4],[29.5,-13.4],[22.5,-14.8],[24.0,-14.8],[26.2,-14.8],[28.4,-14.8],[30.8,-14.8],
  // clusters inside the 2010s cloud
  [20.1,-5.2],[21.0,-5.7],[21.8,-5.2],[22.9,-5.0],[24.0,-5.6],[24.8,-5.9],[23.2,-6.1],[22.1,-6.4],[21.0,-6.3],[20.2,-7.0],
  [21.6,-7.1],[23.7,-6.8],[24.5,-6.6],[22.2,-8.4],[24.3,-8.1],[24.2,-8.4],
  [25.6,-4.8],[26.4,-5.4],[25.6,-6.6],[25.8,-7.6],[26.4,-7.0],[27.2,-6.3],[27.7,-5.7],[28.0,-4.9],[29.1,-5.3],[29.6,-5.9],
  [29.2,-7.0],[27.7,-7.6],[27.5,-8.2],[28.5,-8.2],[26.9,-9.0],[28.0,-9.3],[28.4,-10.0],[27.2,-10.4],[26.8,-10.8],[30.1,-8.6],
  [30.4,-9.5],[31.2,-7.9],[31.7,-7.2],[32.0,-9.0],[29.9,-10.5],[30.4,-10.8],[32.4,-10.7],[25.3,-10.3],
  [19.7,-12.1],[20.2,-11.8],[21.4,-13.5],[22.6,-13.6],[21.7,-12.5],[22.4,-15.0],[24.0,-13.4],[24.0,-14.4],[24.8,-12.9],[25.3,-14.0],
  [26.1,-13.6],[25.9,-15.3],[26.4,-15.9],[27.5,-15.3],[27.7,-12.1],[28.0,-12.9],[27.9,-13.4],[29.3,-12.9],[30.4,-13.4],[31.2,-12.7],
  [31.5,-14.6],[32.0,-15.4],[32.3,-13.4],[28.8,-16.2],
  [37.2,-2.65],[33.1,-3.7],[33.6,-3.5],[35.6,-5.9],[37.2,-7.55],[37.6,-7.55],[38.0,-8.7],[40.2,-8.7],[36.1,-10.2],[39.6,-10.7],
  [40.8,-11.3],[41.9,-12.2],[36.8,-11.3],[39.2,-12.0],[40.1,-12.8],[47.25,-14.9],[40.0,-17.35],[40.6,-17.6],[41.2,-17.5],[41.8,-17.6],
  [42.2,-17.8],[41.2,-18.4],[43.3,-18.7],[43.8,-16.6],[45.5,-19.25],[45.2,-21.4],[46.7,-21.45],[34.7,-16.75],[35.3,-16.75],[35.9,-16.0],
  [36.2,-15.7],[37.2,-16.4],[37.8,-15.9],[38.1,-15.1],[32.9,-16.5],[34.0,-14.1],[31.4,-15.5],[32.3,-15.7],
  [31.0,-3.7],[32.0,-7.1],[31.5,-8.0],[31.0,-9.2],[33.4,-8.1],[33.5,-9.2],[32.4,-11.4],[30.9,-12.3],[33.8,-13.5],[31.3,-14.0],
  [32.0,-14.0],[32.7,-14.7],[33.4,-15.7],[32.1,-15.9],[33.9,-16.4],[30.9,-18.7],[32.4,-18.4],[35.1,-11.7],[35.3,-9.0],[34.9,-10.0],
  [35.1,-13.7],
  [26.2,-21.1],[26.8,-20.9],[27.4,-21.7],[28.0,-20.9],[28.6,-21.1],[28.9,-21.7],[29.6,-20.9],[30.2,-21.8],[30.2,-22.4],[30.0,-23.0],
  [31.1,-23.3],[31.4,-24.0],[32.0,-23.6],[32.2,-23.3],[32.6,-23.6],[32.9,-23.5],[32.3,-24.5],[32.7,-22.1],[34.0,-21.8],[30.1,-25.2],
  [31.9,-25.2],[33.5,-25.2],[30.8,-21.5],[31.1,-22.1],[33.4,-3.7],[38.1,-8.6],[40.3,-8.8],[41.4,-10.9],[41.9,-12.3],[40.5,-17.7],
  [41.6,-16.9],[43.1,-16.7],[44.0,-18.6],[45.4,-19.3],
  [53.9,-19.05],[54.5,-18.9],[57.9,-20.0],[57.1,-22.45],[61.0,-22.4],[53.6,-23.7],[50.9,-25.4],[65.6,-25.0],[76.0,-25.3],[75.5,-26.8],
  [63.9,-26.9],[57.05,-27.1],[61.7,-27.7],[72.0,-28.9],[76.4,-29.2],[82.7,-29.55],[66.1,-32.0],[61.6,-33.9],[46.8,-26.5]
];

// shaded regimes (VIX range, drawdown range)
const regimeBoxes = [
  {name:"COVID", color:"#FFC000", x0:47.4, x1:84.1, y0:-18.3, y1:-35.0},
  {name:"GFC",   color:"#ED7D31", x0:47.4, x1:84.1, y0:-35.15, y1:-57.3}
];

// call-outs, placed in chart units
const callouts = [
  {lines:["LTCM"], color:"#2F5090", at:[48.05,-16.53], anchor:"start", from:[47.85,-16.95], to:[45.9,-18.7]},
  {lines:["FED"], color:"#7F7F7F", at:[39.42,-20.56], anchor:"start", from:[39.1,-20.0], to:[36.5,-19.75]},
  {lines:["NOW"], color:"#FFC000", at:[37.21,-22.44], anchor:"start", from:[36.93,-22.29], to:[32.84,-24.36]},
  {lines:["COVID"], color:"#FFC000", at:[79.57,-14.27], anchor:"start", from:[80.97,-14.81], to:[78.08,-17.87]},
  {lines:["GFC"], color:"#ED7D31", at:[86.75,-34.52], anchor:"start", from:[86.67,-35.02], to:[84.5,-36.9]},
  {lines:["DOT COM","BUST"], color:"#ED7D31", at:[35.17,-53.05], anchor:"middle", from:[37.9,-51.32], to:[41.99,-49.25]}
];

function fromRows(rows){
  return rows.flatMap(r => r[1].map(v => [v, r[0]]));
}

const seriesPoints = [
  blue1990s,
  fromRows(orangeRows).concat(orange2000s),
  fromRows(grayRows).concat(gray2010s),
  fromRows(yellowRows).concat(yellow2020s)
];

const svg = d3.select("#chart");
const x = d3.scaleLinear().domain([0, 90]).range([136, 2378]);
const y = d3.scaleLinear().domain([-60, 0]).range([1709, 145]);

svg.append("rect").attr("width", 2480).attr("height", 1811).attr("fill", "#fff");

const defs = svg.append("defs");
defs.append("filter")
    .attr("id", "frameShadow")
    .attr("x", "-5%").attr("y", "-5%").attr("width", "110%").attr("height", "110%")
  .append("feGaussianBlur")
    .attr("stdDeviation", 7);

defs.append("marker")
    .attr("id", "arrowHead")
    .attr("viewBox", "0 0 24 18")
    .attr("refX", 22)
    .attr("refY", 9)
    .attr("markerWidth", 24)
    .attr("markerHeight", 18)
    .attr("markerUnits", "userSpaceOnUse")
    .attr("orient", "auto")
  .append("path")
    .attr("d", "M0,0 L24,9 L0,18 z")
    .attr("fill", "#000");

// frame with drop shadow
svg.append("rect")
    .attr("x", 20).attr("y", 22).attr("width", 2438).attr("height", 1768)
    .attr("fill", "#000").attr("opacity", 0.45)
    .attr("filter", "url(#frameShadow)");
svg.append("rect")
    .attr("x", 11).attr("y", 11).attr("width", 2438).attr("height", 1768)
    .attr("fill", "#fff").attr("stroke", "#000").attr("stroke-width", 4);
svg.append("rect")
    .attr("x", 16).attr("y", 16).attr("width", 2428).attr("height", 1758)
    .attr("fill", "none").attr("stroke", "#C8C8C8").attr("stroke-width", 2);

// gridlines
const grid = svg.append("g").attr("stroke", "#D9D9D9").attr("stroke-width", 2.5);
grid.selectAll("line.v").data(xTickValues).join("line")
    .attr("class", "v")
    .attr("x1", d => x(d)).attr("x2", d => x(d))
    .attr("y1", y(0)).attr("y2", y(-60));
grid.selectAll("line.h").data(yTickValues).join("line")
    .attr("class", "h")
    .attr("x1", x(0)).attr("x2", x(90))
    .attr("y1", d => y(d)).attr("y2", d => y(d));

// axes labels (no domain line, Excel style)
const xAxis = d3.axisBottom(x).tickValues(xTickValues).tickFormat(d3.format(".1f")).tickSize(0).tickPadding(0);
svg.append("g")
    .attr("transform", `translate(0,${y(-60)})`)
    .call(xAxis)
    .call(g => g.select(".domain").remove())
    .call(g => g.selectAll("text")
        .attr("y", 51).attr("dy", null)
        .attr("font-family", FONT).attr("font-size", 24).attr("fill", "#595959"));

const yAxis = d3.axisLeft(y).tickValues(yTickValues).tickFormat(d => d + "%").tickSize(0).tickPadding(0);
svg.append("g")
    .attr("transform", `translate(104,0)`)
    .call(yAxis)
    .call(g => g.select(".domain").remove())
    .call(g => g.selectAll("text")
        .attr("x", 0).attr("dy", "0.36em")
        .attr("font-family", FONT).attr("font-size", 24).attr("fill", "#595959"));

// scatter series (1990s first, 2020s on top)
seriesPoints.forEach((pts, i) => {
  svg.append("g")
      .attr("fill", seriesColors[i])
    .selectAll("circle")
    .data(pts)
    .join("circle")
      .attr("cx", d => x(d[0]))
      .attr("cy", d => y(d[1]))
      .attr("r", 9.5);
});

// regime boxes
svg.append("g").selectAll("rect")
    .data(regimeBoxes)
    .join("rect")
      .attr("x", d => x(d.x0))
      .attr("y", d => y(d.y0))
      .attr("width", d => x(d.x1) - x(d.x0))
      .attr("height", d => y(d.y1) - y(d.y0))
      .attr("fill", d => d.color)
      .attr("fill-opacity", 0.16)
      .attr("stroke", d => d.color)
      .attr("stroke-width", 4.5);

// call-outs
const notes = svg.append("g");
callouts.forEach(c => {
  notes.append("line")
      .attr("x1", x(c.from[0])).attr("y1", y(c.from[1]))
      .attr("x2", x(c.to[0])).attr("y2", y(c.to[1]))
      .attr("stroke", "#000").attr("stroke-width", 3)
      .attr("marker-end", "url(#arrowHead)");
  c.lines.forEach((t, k) => {
    notes.append("text")
        .text(t)
        .attr("x", x(c.at[0]))
        .attr("y", y(c.at[1]) + k * 47)
        .attr("text-anchor", c.anchor)
        .attr("font-family", FONT)
        .attr("font-weight", 700)
        .attr("font-size", 33)
        .attr("fill", c.color);
  });
});

// legend
const legend = svg.append("g");
legend.append("rect")
    .attr("x", 1085).attr("y", 151).attr("width", 758).attr("height", 62)
    .attr("fill", "#fff").attr("stroke", "#D9D9D9").attr("stroke-width", 2);
const legendX = [1130, 1328, 1530, 1729];
seriesNames.forEach((name, i) => {
  legend.append("circle")
      .attr("cx", legendX[i]).attr("cy", 181).attr("r", 9.5)
      .attr("fill", seriesColors[i]);
  legend.append("text")
      .text(name)
      .attr("x", legendX[i] + 17).attr("y", 191)
      .attr("font-family", FONT).attr("font-size", 28).attr("fill", "#595959");
});

// titles
svg.append("text")
    .text("S&P Drawdown (LS) vs VIX Implied Volatility Index (RS)")
    .attr("x", 1230).attr("y", 87)
    .attr("text-anchor", "middle")
    .attr("textLength", 1091).attr("lengthAdjust", "spacingAndGlyphs")
    .attr("font-family", FONT).attr("font-size", 43).attr("fill", "#595959");
svg.append("text")
    .text("Figure 5")
    .attr("x", 46).attr("y", 63)
    .attr("textLength", 148).attr("lengthAdjust", "spacingAndGlyphs")
    .attr("font-family", FONT).attr("font-weight", 700).attr("font-size", 42).attr("fill", "#000");

// MOTR logo + url
function gearPath(cx, cy, rOut, rIn, teeth){
  const pts = [];
  const n = teeth * 4;
  for (let i = 0; i < n; i++){
    const a = (i / n) * Math.PI * 2 - Math.PI / 2;
    const r = (i % 4 < 2) ? rOut : rIn;
    pts.push([cx + r * Math.cos(a), cy + r * Math.sin(a)]);
  }
  return "M" + pts.map(p => p.join(",")).join("L") + "Z";
}
const logo = svg.append("g");
logo.append("rect")
    .attr("x", 228).attr("y", 1583).attr("width", 184).attr("height", 61)
    .attr("fill", "#fff").attr("stroke", "#1B1F80").attr("stroke-width", 3.5);
logo.append("text")
    .text("M")
    .attr("x", 234).attr("y", 1637)
    .attr("textLength", 48).attr("lengthAdjust", "spacingAndGlyphs")
    .attr("font-family", FONT).attr("font-weight", 900).attr("font-size", 60).attr("fill", "#1A5EA8");
logo.append("path")
    .attr("d", gearPath(305, 1614, 22, 16, 8))
    .attr("fill", "#1A5EA8");
logo.append("circle").attr("cx", 305).attr("cy", 1614).attr("r", 12).attr("fill", "#fff");
logo.append("circle").attr("cx", 305).attr("cy", 1614).attr("r", 9).attr("fill", "#3A9BDB");
logo.append("text")
    .text("TR")
    .attr("x", 324).attr("y", 1637)
    .attr("textLength", 82).attr("lengthAdjust", "spacingAndGlyphs")
    .attr("font-family", FONT).attr("font-weight", 900).attr("font-size", 60).attr("fill", "#2E93D8");

svg.append("text")
    .text("www.motrcmr.com")
    .attr("x", 147).attr("y", 1699)
    .attr("textLength", 371).attr("lengthAdjust", "spacingAndGlyphs")
    .attr("font-family", FONT).attr("font-weight", 700).attr("font-size", 39).attr("fill", "#000");
</script>
</body>
</html>
